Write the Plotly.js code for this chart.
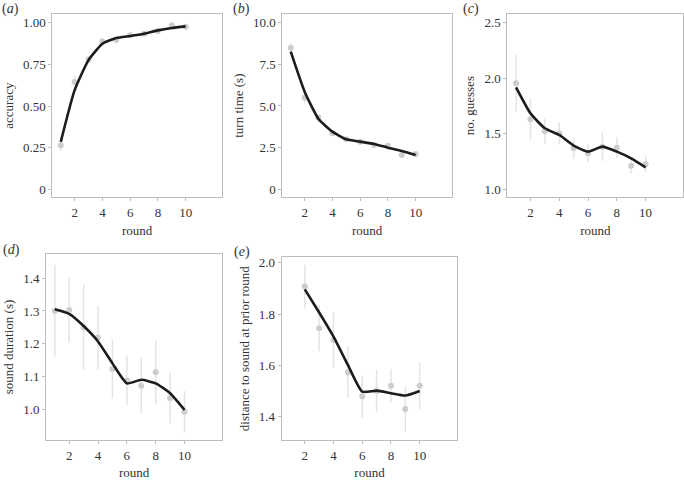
<!DOCTYPE html>
<html>
<head>
<meta charset="utf-8">
<script src="https://cdn.plot.ly/plotly-3.0.1.min.js"></script>
<style>html,body{margin:0;padding:0;background:#fff;}#chart{width:684px;height:480px;}</style>
</head>
<body>
<div id="chart"></div>
<script>
// ---- data ----
const rounds = [1, 2, 3, 4, 5, 6, 7, 8, 9, 10];
const roundsPrior = [2, 3, 4, 5, 6, 7, 8, 9, 10];

const accuracyMean = [0.266, 0.644, 0.78, 0.888, 0.896, 0.925, 0.934, 0.95, 0.985, 0.975];
const accuracyErr  = [0.035, 0.04, 0.02, 0.02, 0.02, 0.015, 0.015, 0.015, 0.01, 0.01];
const accuracyFit  = [0.286, 0.596, 0.776, 0.874, 0.908, 0.92, 0.934, 0.954, 0.968, 0.978];

const turnMean = [8.5, 5.5, 4.3, 3.36, 3.0, 2.86, 2.66, 2.62, 2.06, 2.12];
const turnErr  = [0.3, 0.35, 0.2, 0.15, 0.1, 0.1, 0.1, 0.1, 0.08, 0.08];
const turnFit  = [8.26, 5.86, 4.22, 3.46, 3.0, 2.86, 2.72, 2.5, 2.3, 2.06];

const guessMean = [1.954, 1.63, 1.522, 1.504, 1.369, 1.324, 1.384, 1.375, 1.213, 1.228];
const guessErr  = [0.255, 0.185, 0.11, 0.1, 0.095, 0.08, 0.13, 0.095, 0.07, 0.075];
const guessFit  = [1.918, 1.684, 1.549, 1.489, 1.393, 1.339, 1.384, 1.339, 1.279, 1.198];

const durMean = [1.301, 1.303, 1.25, 1.219, 1.123, 1.088, 1.072, 1.113, 1.034, 0.992];
const durErr  = [0.14, 0.1, 0.13, 0.097, 0.09, 0.075, 0.087, 0.097, 0.077, 0.064];
const durFit  = [1.305, 1.291, 1.254, 1.207, 1.14, 1.079, 1.09, 1.079, 1.049, 0.998];

const distMean = [1.907, 1.745, 1.699, 1.574, 1.479, 1.501, 1.521, 1.431, 1.521];
const distErr  = [0.085, 0.09, 0.107, 0.1, 0.082, 0.083, 0.065, 0.09, 0.09];
const distFit  = [1.896, 1.806, 1.712, 1.602, 1.498, 1.502, 1.492, 1.483, 1.501];

const xTickVals = [2, 4, 6, 8, 10];
const yTicksA = {vals: [0, 0.25, 0.5, 0.75, 1.0], text: ['0', '0.25', '0.50', '0.75', '1.00']};
const yTicksB = {vals: [0, 2.5, 5, 7.5, 10], text: ['0', '2.5', '5.0', '7.5', '10.0']};
const yTicksC = {vals: [1.0, 1.5, 2.0, 2.5], text: ['1.0', '1.5', '2.0', '2.5']};
const yTicksD = {vals: [1.0, 1.1, 1.2, 1.3, 1.4], text: ['1.0', '1.1', '1.2', '1.3', '1.4']};
const yTicksE = {vals: [1.4, 1.6, 1.8, 2.0], text: ['1.4', '1.6', '1.8', '2.0']};

const yTitles = ['accuracy', 'turn time (s)', 'no. guesses', 'sound duration (s)', 'distance to sound at prior round'];
const panelLabels = ['a', 'b', 'c', 'd', 'e'];

// ---- styling ----
const FONT = 'Liberation Serif, Times New Roman, serif';
const PT_COL = '#cdcdcd';
const ERR_COL = '#e4e4e4';
const LINE_COL = '#1c1c1c';
const W = 684, H = 480;

function panelTraces(x, mean, err, fit, idx) {
  const xa = idx === 1 ? 'x' : 'x' + idx;
  const ya = idx === 1 ? 'y' : 'y' + idx;
  return [
    {x: x, y: mean, type: 'scatter', mode: 'markers', xaxis: xa, yaxis: ya,
     marker: {color: PT_COL, size: 6},
     error_y: {type: 'data', array: err, visible: true, color: ERR_COL, thickness: 1.5, width: 0},
     hoverinfo: 'skip', showlegend: false},
    {x: x, y: fit, type: 'scatter', mode: 'lines', xaxis: xa, yaxis: ya,
     line: {color: LINE_COL, width: 2.6, shape: 'spline', smoothing: 0.5},
     hoverinfo: 'skip', showlegend: false}
  ];
}

const data = [].concat(
  panelTraces(rounds, accuracyMean, accuracyErr, accuracyFit, 1),
  panelTraces(rounds, turnMean, turnErr, turnFit, 2),
  panelTraces(rounds, guessMean, guessErr, guessFit, 3),
  panelTraces(rounds, durMean, durErr, durFit, 4),
  panelTraces(roundsPrior, distMean, distErr, distFit, 5)
);

// panel boxes in pixels: [left, right, top, bottom]
const boxes = [
  [52.3, 222, 14, 197.3],
  [282.3, 452, 14, 197.3],
  [507.3, 683.3, 14, 197.3],
  [46, 222.3, 254, 440],
  [281.7, 457.3, 257.3, 440]
];
const yRanges = [[-0.046, 1.052], [-0.48, 10.52], [0.928, 2.578], [0.906, 1.474], [1.31, 2.021]];
const yTicks = [yTicksA, yTicksB, yTicksC, yTicksD, yTicksE];
const labelPos = [[0, 9], [231, 9], [461, 9], [1, 250], [232, 252]];

const axisCommon = {
  showline: true, mirror: true, linecolor: '#bdbdbd', linewidth: 1,
  ticks: 'outside', ticklen: 3, tickcolor: '#bdbdbd', tickwidth: 1,
  showgrid: false, zeroline: false,
  tickfont: {family: FONT, size: 13, color: '#333'}
};

const layout = {
  width: W, height: H,
  margin: {l: 0, r: 0, t: 0, b: 0},
  paper_bgcolor: '#fff', plot_bgcolor: '#fff',
  font: {family: FONT, color: '#333'},
  annotations: []
};

boxes.forEach((b, i) => {
  const n = i === 0 ? '' : String(i + 1);
  layout['xaxis' + n] = Object.assign({}, axisCommon, {
    domain: [b[0] / W, b[1] / W],
    anchor: 'y' + n,
    range: [0.39, 12.62],
    tickvals: xTickVals, ticktext: xTickVals.map(String),
    title: {text: 'round', font: {family: FONT, size: 13, color: '#333'}, standoff: 6}
  });
  layout['yaxis' + n] = Object.assign({}, axisCommon, {
    domain: [1 - b[3] / H, 1 - b[2] / H],
    anchor: 'x' + n,
    range: yRanges[i],
    tickvals: yTicks[i].vals, ticktext: yTicks[i].text,
    title: {text: yTitles[i], font: {family: FONT, size: 13, color: '#333'}, standoff: 6}
  });
  layout.annotations.push({
    text: '(<i>' + panelLabels[i] + '</i>)', xref: 'paper', yref: 'paper',
    x: labelPos[i][0] / W, y: 1 - labelPos[i][1] / H,
    xanchor: 'left', yanchor: 'middle', showarrow: false,
    font: {family: FONT, size: 14, color: '#333'}
  });
});

Plotly.newPlot('chart', data, layout, {displayModeBar: false, staticPlot: true});
</script>
</body>
</html>
